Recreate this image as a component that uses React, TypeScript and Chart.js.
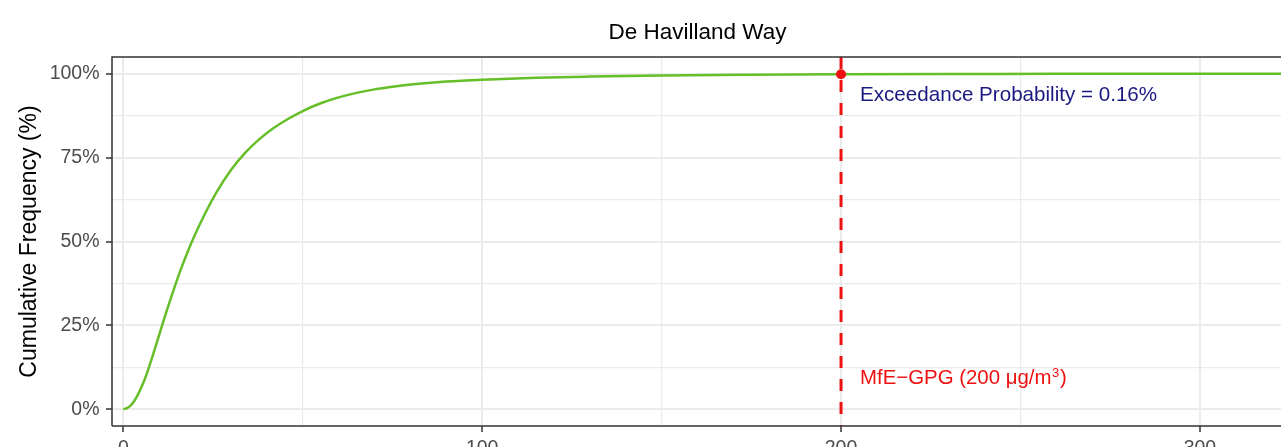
import React, { useEffect, useRef } from "react";
import { Chart, registerables } from "chart.js";

Chart.register(...registerables);

// ---- data ----
const conc: number[] = [0, 1, 2, 3, 4, 6, 8, 10, 12, 14, 16, 18, 20, 23, 26, 30, 34, 38, 42, 46, 50, 55, 60, 65, 70, 75, 80, 90, 100, 115, 130, 150, 175, 200, 230, 260, 290, 323];
const cumFreq: number[] = [0, 0.35, 1.1, 2.4, 4.2, 9.0, 15.3, 22.2, 29.0, 35.5, 41.6, 47.1, 52.1, 58.8, 64.7, 71.3, 76.5, 80.6, 83.9, 86.6, 88.9, 91.2, 92.95, 94.3, 95.35, 96.15, 96.8, 97.7, 98.25, 98.8, 99.15, 99.5, 99.72, 99.84, 99.93, 99.97, 99.99, 100];
const threshold = 200;
const exceedancePct = 0.16;
const xTickValues: number[] = [0, 50, 100, 150, 200, 250, 300];
const yTickValues: number[] = [0, 12.5, 25, 37.5, 50, 62.5, 75, 87.5, 100];
const xRange: number[] = [-3.15, 322.6];
const yRange: number[] = [-5, 105];
const titleText = "De Havilland Way";
const yTitle = "Cumulative Frequency (%)";
const exceedLabel = `Exceedance Probability = ${exceedancePct}%`;
const guideLabel = "MfE\u2212GPG (200 \u03bcg/m";

const FONT = '"Liberation Sans", Arial, sans-serif';

const overlay = {
  id: "overlay",
  afterDraw(chart: any) {
    const { ctx, chartArea } = chart;
    const xs = chart.scales.x;
    const ys = chart.scales.y;
    ctx.save();
    // panel border
    ctx.strokeStyle = "#333333";
    ctx.lineWidth = 1.5;
    ctx.beginPath();
    ctx.moveTo(chartArea.left, chartArea.bottom);
    ctx.lineTo(chartArea.left, chartArea.top);
    ctx.lineTo(chartArea.right + 4, chartArea.top);
    ctx.moveTo(chartArea.left, chartArea.bottom);
    ctx.lineTo(chartArea.right + 4, chartArea.bottom);
    ctx.stroke();

    // title
    ctx.fillStyle = "#000000";
    ctx.font = `22.5px ${FONT}`;
    ctx.textAlign = "center";
    ctx.textBaseline = "alphabetic";
    ctx.fillText(titleText, (chartArea.left + chartArea.right) / 2 + 1, 39);

    // annotations
    const tx = xs.getPixelForValue(threshold) + 19;
    ctx.textAlign = "left";
    ctx.font = `20.6px ${FONT}`;
    ctx.fillStyle = "#1a1a80";
    ctx.fillText(exceedLabel, tx, ys.getPixelForValue(100) + 27.5);

    ctx.fillStyle = "#ee1111";
    ctx.font = `20.4px ${FONT}`;
    const by = ys.getPixelForValue(0) - 25;
    ctx.fillText(guideLabel, tx, by);
    const w = ctx.measureText(guideLabel).width;
    ctx.font = `13px ${FONT}`;
    ctx.fillText("3", tx + w + 0.5, by - 7.5);
    const w3 = ctx.measureText("3").width;
    ctx.font = `20.4px ${FONT}`;
    ctx.fillText(")", tx + w + w3 + 1.5, by);
    ctx.restore();
  },
};

export default function App() {
  const ref = useRef<HTMLCanvasElement | null>(null);
  useEffect(() => {
    if (!ref.current) return;
    const curve = conc.map((x, i) => ({ x, y: cumFreq[i] }));
    const chart = new Chart(ref.current, {
      type: "scatter",
      data: {
        datasets: [
          {
            data: [{ x: threshold, y: 100 - exceedancePct }],
            pointRadius: 5,
            pointBackgroundColor: "#ee1111",
            pointBorderColor: "#ee1111",
            pointBorderWidth: 0,
            showLine: false,
            order: 0,
          } as any,
          {
            data: [
              { x: threshold, y: yRange[1] },
              { x: threshold, y: yRange[0] },
            ],
            showLine: true,
            borderColor: "#ee1111",
            borderWidth: 3,
            borderDash: [12, 11],
            pointRadius: 0,
            order: 1,
          },
          {
            data: curve,
            showLine: true,
            borderColor: "#66BF28",
            borderWidth: 2.5,
            pointRadius: 0,
            cubicInterpolationMode: "monotone",
            order: 2,
          },
        ],
      },
      options: {
        responsive: false,
        animation: false,
        devicePixelRatio: 1,
        layout: { autoPadding: false, padding: { top: 57, left: 0, right: 0, bottom: 0 } },
        plugins: { legend: { display: false }, tooltip: { enabled: false }, title: { display: false } },
        scales: {
          x: {
            type: "linear",
            min: xRange[0],
            max: xRange[1],
            afterBuildTicks: (s: any) => {
              s.ticks = xTickValues.map((v) => ({ value: v }));
            },
            afterFit: (s: any) => {
              s.height = 21;
              s.paddingLeft = 0;
              s.paddingRight = 0;
            },
            border: { display: false },
            grid: {
              color: "#EBEBEB",
              lineWidth: (c: any) => (c.tick && c.tick.value % 100 === 0 ? 2 : 1.2),
              tickLength: 6,
              tickColor: (c: any) => (c.tick && c.tick.value % 100 === 0 ? "#333333" : "rgba(0,0,0,0)"),
              tickWidth: 1.5,
            },
            ticks: {
              autoSkip: false,
              maxRotation: 0,
              padding: 5,
              color: "#4D4D4D",
              font: { family: FONT, size: 19.5 },
              callback: (v: any) => (Number(v) % 100 === 0 ? String(v) : ""),
            },
          },
          y: {
            type: "linear",
            min: yRange[0],
            max: yRange[1],
            afterBuildTicks: (s: any) => {
              s.ticks = yTickValues.map((v) => ({ value: v }));
            },
            afterFit: (s: any) => {
              s.width = 112;
              s.paddingTop = 0;
              s.paddingBottom = 0;
            },
            border: { display: false },
            grid: {
              color: "#EBEBEB",
              lineWidth: (c: any) => (c.tick && c.tick.value % 25 === 0 ? 2 : 1.2),
              tickLength: 6,
              tickColor: (c: any) => (c.tick && c.tick.value % 25 === 0 ? "#333333" : "rgba(0,0,0,0)"),
              tickWidth: 1.5,
            },
            ticks: {
              autoSkip: false,
              padding: 6.5,
              color: "#4D4D4D",
              font: { family: FONT, size: 19.5 },
              callback: (v: any) => (Number(v) % 25 === 0 ? `${v}%` : ""),
            },
            title: {
              display: true,
              text: yTitle,
              color: "#000000",
              font: { family: FONT, size: 23 },
              padding: { top: 16, bottom: 0 },
            },
          },
        },
      },
      plugins: [overlay],
    });
    return () => chart.destroy();
  }, []);
  return (
    <div style={{ position: "absolute", left: 0, top: 0, width: 1281, height: 447, overflow: "hidden", background: "#fff" }}>
      <canvas ref={ref} width={1281} height={447} style={{ display: "block", width: 1281, height: 447 }} />
    </div>
  );
}
